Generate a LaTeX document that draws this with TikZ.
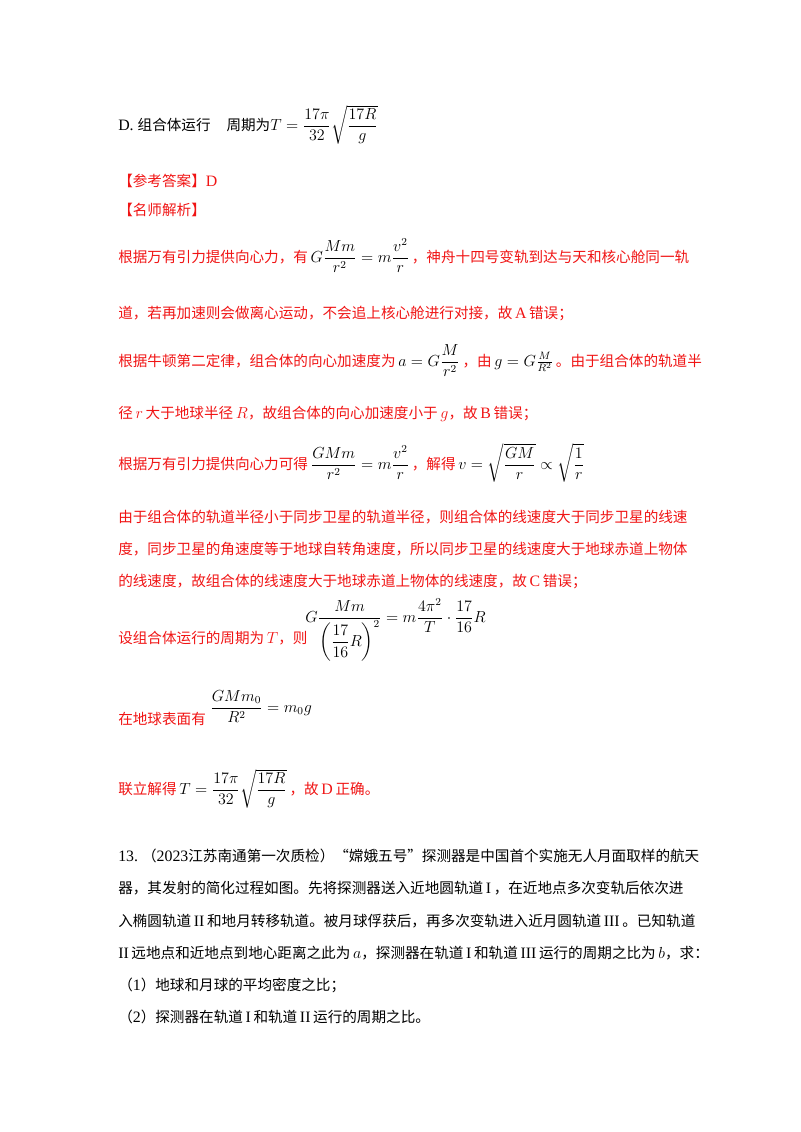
\documentclass[tikz,border=0pt]{standalone}
\usepackage{amsmath}
\usepackage{fontspec}
\setmainfont{Liberation Serif}
\newfontfamily\cjk{Noto Sans CJK SC}[Scale=0.92]
\newcommand{\zh}[1]{{\cjk #1}}
\newcommand{\bk}[1]{{\color{black}#1}}
\definecolor{ansred}{RGB}{240,20,20}
\begin{document}
\begin{tikzpicture}[x=0.75pt,y=-0.75pt,
  t/.style={anchor=base west,inner sep=0pt,font=\fontsize{11.9}{14}\selectfont},
  r/.style={t,text=ansred}]
\useasboundingbox (0,0) rectangle (800,1132);
\node[t] (d) at (118,130) {D.\ \zh{组合体运行}\quad\zh{周期为}$T=\dfrac{17\pi}{32}\sqrt{\dfrac{17R}{g}}$};
\node[r] (a1) at (118,186) {\zh{【参考答案】}D};
\node[r] (a2) at (118,215) {\zh{【名师解析】}};
\node[r] (l1) at (118,262) {\zh{根据万有引力提供向心力，有}\,\bk{$G\dfrac{Mm}{r^2}=m\dfrac{v^2}{r}$}\,\zh{，神舟十四号变轨到达与天和核心舱同一轨}};
\node[r] (l2) at (118,318) {\zh{道，若再加速则会做离心运动，不会追上核心舱进行对接，故}\,A\,\zh{错误；}};
\node[r] (l3) at (118,366) {\zh{根据牛顿第二定律，组合体的向心加速度为}\,\bk{$a=G\dfrac{M}{r^2}$}\,\zh{，由}\,\bk{$g=G\frac{M}{R^2}$}\,\zh{。由于组合体的轨道半}};
\node[r] (l4) at (118,418) {\zh{径}$\,r\,$\zh{大于地球半径}$\,R$\zh{，故组合体的向心加速度小于}$\,g$\zh{，故}\,B\,\zh{错误；}};
\node[r] (l5) at (118,469) {\zh{根据万有引力提供向心力可得}\,\bk{$\dfrac{GMm}{r^2}=m\dfrac{v^2}{r}$}\,\zh{，解得}\,\bk{$v=\sqrt{\dfrac{GM}{r}}\propto\sqrt{\dfrac{1}{r}}$}};
\node[r] (p1) at (118,522) {\zh{由于组合体的轨道半径小于同步卫星的轨道半径，则组合体的线速度大于同步卫星的线速}};
\node[r] (p2) at (118,554) {\zh{度，同步卫星的角速度等于地球自转角速度，所以同步卫星的线速度大于地球赤道上物体}};
\node[r] (p3) at (118,586) {\zh{的线速度，故组合体的线速度大于地球赤道上物体的线速度，故}\,C\,\zh{错误；}};
\node[r] (p4) at (118,643) {\zh{设组合体运行的周期为}$\,T$\zh{，则}};
\node[t,text=black] (e1) at (305,622) {$G\dfrac{Mm}{\left(\dfrac{17}{16}R\right)^{2}}=m\dfrac{4\pi^2}{T}\cdot\dfrac{17}{16}R$};
\node[r] (p5) at (118,724) {\zh{在地球表面有}};
\node[t] (e2) at (210,712) {$\dfrac{GMm_0}{R^2}=m_0g$};
\node[r] (p6) at (118,794) {\zh{联立解得}\,\bk{$T=\dfrac{17\pi}{32}\sqrt{\dfrac{17R}{g}}$}\,\zh{，故}\,D\,\zh{正确。}};
\node[t] (q1) at (118,861) {13.\ \zh{（}2023\zh{江苏南通第一次质检）“嫦娥五号”探测器是中国首个实施无人月面取样的航天}};
\node[t] (q2) at (118,893) {\zh{器，其发射的简化过程如图。先将探测器送入近地圆轨道}\,I\,\zh{，在近地点多次变轨后依次进}};
\node[t] (q3) at (118,926) {\zh{入椭圆轨道}\,II\,\zh{和地月转移轨道。被月球俘获后，再多次变轨进入近月圆轨道}\,III\,\zh{。已知轨道}};
\node[t] (q4) at (118,958) {II\,\zh{远地点和近地点到地心距离之此为}$\,a$\zh{，探测器在轨道}\,I\,\zh{和轨道}\,III\,\zh{运行的周期之比为}$\,b$\zh{，求：}};
\node[t] (q5) at (118,990) {\zh{（}1\zh{）地球和月球的平均密度之比；}};
\node[t] (q6) at (118,1022) {\zh{（}2\zh{）探测器在轨道}\,I\,\zh{和轨道}\,II\,\zh{运行的周期之比。}};
\end{tikzpicture}
\end{document}
